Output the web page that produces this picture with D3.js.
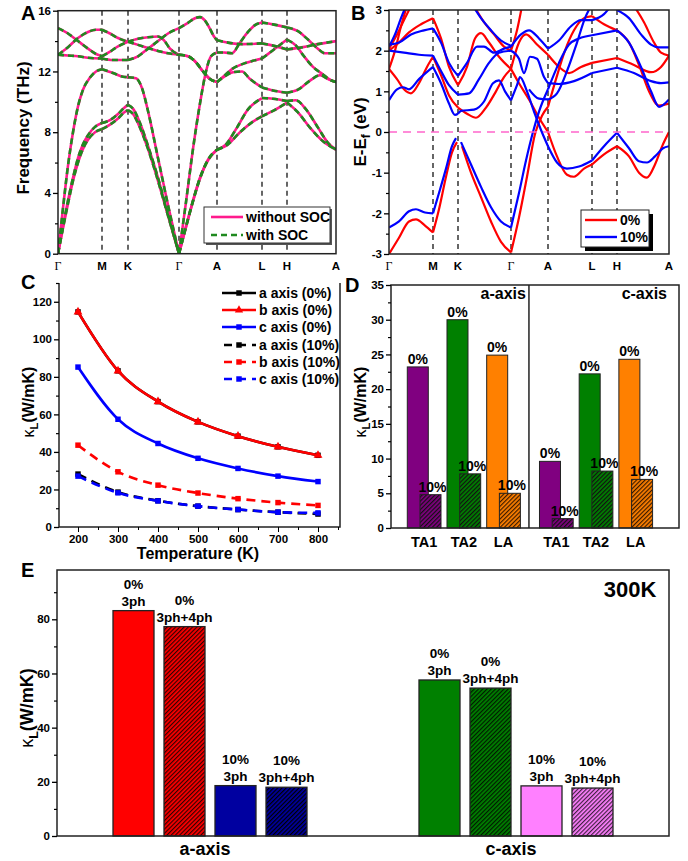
<!DOCTYPE html>
<html><head><meta charset="utf-8">
<script src="https://cdn.jsdelivr.net/npm/d3@7"></script>
<style>
body{margin:0;background:#fff;}
svg{font-family:"Liberation Sans",Arial,sans-serif;font-weight:bold;}
</style></head><body>
<svg id="fig" width="688" height="861"></svg>
<script>
// ---------- data ----------
const kLabels = ["Γ","M","K","Γ","A","L","H","A"];
const kPathA = [0,44,70,121,159,204,229,278];
const kPathB = [0,44,69,122,159,203,228,280];

// phonon bands (k, THz)
const phonon1 = [[0,0],[5,1.7],[10,3.3],[15,4.8],[20,6.0],[25,6.9],[30,7.5],[37,8.0],[44,8.2],[52,8.5],[60,8.9],[66,9.3],[70,9.45],[75,9.2],[82,8.3],[90,6.9],[100,4.8],[110,2.5],[121,0],[128,1.8],[135,3.5],[142,5.0],[150,6.2],[159,6.85],[170,7.2],[182,8.0],[195,8.7],[204,9.05],[215,9.4],[229,9.95],[240,9.3],[252,8.3],[265,7.4],[278,6.85]];
const phonon2 = [[0,0],[5,1.8],[10,3.5],[15,5.0],[20,6.3],[25,7.2],[30,7.8],[37,8.35],[44,8.6],[52,8.8],[60,9.2],[66,9.6],[70,9.8],[75,9.55],[82,8.6],[90,7.1],[100,5.0],[110,2.6],[121,0],[128,1.75],[135,3.45],[142,4.95],[150,6.15],[159,6.85],[168,7.2],[178,8.2],[190,9.5],[204,10.25],[215,10.2],[229,10.05],[238,10.1],[248,9.5],[260,8.3],[270,7.3],[278,6.85]];
const phonon3 = [[0,0],[5,3.0],[10,5.8],[15,8.0],[20,9.7],[25,10.8],[32,11.6],[38,12.0],[44,12.15],[55,11.9],[65,11.65],[70,11.62],[78,11.55],[84,10.9],[90,9.4],[100,6.3],[110,3.2],[121,0],[128,3.4],[135,6.9],[142,9.9],[148,12.0],[153,13.0],[159,13.25],[166,13.25],[174,13.2],[182,13.9],[190,14.6],[197,15.05],[204,15.22],[215,15.1],[229,14.9],[240,14.65],[250,14.1],[259,13.55],[267,13.2],[278,13.2]];
const phonon4 = [[0,14.85],[10,14.5],[20,14.0],[30,13.5],[38,13.15],[44,13.0],[52,13.3],[60,13.65],[70,13.95],[80,14.15],[90,14.25],[100,14.3],[106,14.05],[112,13.5],[121,13.1],[130,13.0],[138,12.6],[145,12.0],[152,11.5],[159,11.3],[165,11.6],[175,11.95],[184,12.0],[192,11.5],[204,10.95],[215,10.75],[229,10.6],[240,10.8],[252,11.4],[262,11.75],[270,11.5],[278,11.3]];
const phonon5 = [[0,13.1],[10,13.6],[20,14.2],[30,14.6],[38,14.75],[44,14.75],[52,14.5],[60,14.2],[70,13.95],[80,13.75],[90,13.55],[100,13.35],[110,13.2],[121,13.1],[130,13.0],[138,12.6],[145,12.0],[152,11.5],[159,11.3],[166,11.7],[175,12.2],[185,12.5],[195,12.7],[204,12.85],[215,13.4],[229,14.1],[238,13.7],[246,13.0],[255,12.3],[265,11.8],[272,11.45],[278,11.3]];
const phonon6 = [[0,13.1],[10,13.05],[20,13.0],[30,12.9],[44,12.85],[55,12.75],[70,12.75],[80,13.0],[90,13.5],[100,14.0],[110,14.5],[121,14.85],[130,15.2],[137,15.5],[142,15.58],[147,15.35],[152,14.8],[156,14.3],[159,14.05],[170,13.9],[185,13.8],[204,13.85],[215,13.7],[229,13.45],[245,13.6],[260,13.8],[278,14.0]];
const phononBands = [phonon1, phonon2, phonon3, phonon4, phonon5, phonon6];

// electronic bands (k, eV)
const red1 = [[0,-3.0],[10,-2.6],[20,-2.2],[27,-2.15],[36,-2.3],[44,-2.47],[50,-1.9],[57,-1.1],[63,-0.5],[68,-0.25],[73,-0.35],[82,-1.0],[92,-1.6],[102,-2.2],[112,-2.7],[122,-2.96],[130,-2.1],[138,-1.1],[146,-0.05],[153,0.4],[159,0.62],[167,1.3],[176,2.0],[185,2.5],[195,2.8],[203,2.85],[215,2.65],[228,2.5],[240,2.2],[250,1.65],[260,1.0],[270,0.65],[280,0.7]];
const red2 = [[0,2.0],[10,2.2],[20,2.45],[32,2.65],[44,2.8],[52,2.3],[60,1.6],[69,1.15],[78,1.6],[86,2.3],[92,2.43],[100,2.2],[110,1.85],[122,1.55],[130,1.2],[140,0.8],[150,0.35],[159,0.0],[168,-0.6],[178,-1.05],[185,-1.1],[195,-0.9],[203,-0.8],[215,-0.55],[228,-0.35],[240,-0.6],[250,-1.0],[258,-1.12],[266,-0.8],[274,-0.3],[280,0.0]];
const red3 = [[0,1.55],[8,1.3],[15,1.05],[22,0.95],[30,1.2],[38,1.6],[44,1.85],[52,1.4],[60,0.9],[69,0.6],[78,0.45],[87,0.35],[97,0.6],[107,1.0],[115,1.35],[122,1.55],[130,2.2],[137,2.4],[148,2.15],[159,1.9],[170,1.6],[180,1.45],[192,1.6],[203,1.7],[228,1.82],[245,1.65],[262,1.47],[272,1.6],[280,1.88]];
const red4 = [[0,2.05],[8,2.4],[16,2.8],[22,3.1]];
const red5 = [[0,1.55],[6,2.0],[12,2.6],[18,3.1]];
const red6 = [[85,3.1],[95,2.7],[105,2.4],[115,2.1],[122,2.0],[128,2.5],[133,3.1]];
const red7 = [[245,3.1],[255,2.7],[265,2.2],[272,1.95],[280,1.88]];
const blue1 = [[0,-2.35],[10,-2.2],[20,-1.95],[27,-1.9],[36,-1.98],[44,-2.0],[50,-1.5],[57,-0.9],[63,-0.35],[67,-0.15],[72,-0.25],[82,-0.8],[92,-1.35],[102,-1.85],[112,-2.2],[122,-2.35],[130,-1.5],[137,-0.7],[144,0.0],[150,0.5],[159,1.05],[170,1.7],[180,2.15],[190,2.3],[203,2.38],[228,2.5],[240,2.2],[252,1.6],[262,1.0],[270,0.62],[280,0.8]];
const blue2 = [[0,0.78],[8,1.05],[14,1.1],[20,1.05],[30,1.3],[44,1.6],[52,1.2],[60,0.7],[66,0.42],[69,0.45],[72,0.52],[85,0.55],[95,0.75],[104,1.2],[110,1.27],[116,1.0],[122,0.78],[128,1.15],[131,1.35],[138,1.0],[145,0.5],[152,0.05],[159,-0.35],[168,-0.75],[178,-0.9],[190,-0.85],[203,-0.7],[215,-0.35],[228,-0.02],[240,-0.4],[250,-0.72],[258,-0.75],[266,-0.6],[274,-0.4],[280,-0.35]];
const blue3 = [[0,2.0],[15,1.95],[30,1.9],[44,1.88],[52,1.5],[60,1.15],[69,0.92],[80,0.95],[90,1.3],[100,1.7],[110,1.95],[122,2.0],[130,1.8],[135,1.45],[141,1.85],[148,1.8],[155,1.35],[159,1.2],[170,1.18],[185,1.25],[203,1.45],[228,1.58],[245,1.45],[262,1.25],[272,1.2],[280,1.22]];
const blue4 = [[0,2.15],[10,2.2],[22,2.4],[35,2.5],[44,2.55],[52,2.2],[60,1.7],[69,1.38],[78,1.7],[88,2.1],[95,2.1],[105,1.95],[115,2.05],[122,2.1],[132,2.4],[140,2.5],[150,2.3],[159,2.05],[170,2.25],[182,2.6],[192,2.75],[203,2.75],[215,2.9],[222,3.1]];
const blue5 = [[0,2.1],[6,2.4],[12,2.8],[17,3.1]];
const blue6 = [[140,1.05],[150,0.82],[159,0.8],[168,0.95],[178,1.5],[188,2.2],[196,2.8],[202,3.1]];
const blue7 = [[84,3.1],[92,2.8],[102,2.5],[112,2.25],[122,2.12]];
const blue8 = [[228,3.0],[240,2.8],[252,2.4],[262,2.15],[270,2.08],[280,2.08]];
const bands0 = [red1, red2, red3, red4, red5, red6, red7];
const bands10 = [blue1, blue2, blue3, blue4, blue5, blue6, blue7, blue8];

// lattice thermal conductivity vs temperature
const temps = [200,300,400,500,600,700,800];
const kapA0 = [114.6,83.2,66.8,56.0,48.4,42.7,38.2];
const kapB0 = [114.6,83.2,66.8,56.0,48.4,42.7,38.2];
const kapC0 = [85.2,57.4,44.5,36.6,31.2,27.1,24.2];
const kapA10 = [28.2,18.6,14.0,11.1,9.3,7.9,6.9];
const kapB10 = [43.6,29.4,22.3,18.1,15.1,13.0,11.5];
const kapC10 = [27.1,18.2,13.9,11.1,9.3,7.9,7.5];
const seriesNames = ["a axis (0%)","b axis (0%)","c axis (0%)","a axis (10%)","b axis (10%)","c axis (10%)"];

// mode-resolved kappa
const modes = ["TA1","TA2","LA"];
const modeAxes = ["a-axis","c-axis"];
const modeA0 = [23.2,30.0,24.9];
const modeA10 = [4.8,7.8,5.0];
const modeC0 = [9.6,22.2,24.3];
const modeC10 = [1.35,8.2,7.0];
const modeColors = ["#800080","#008000","#ff8000"];

// 300K kappa
const caseStrain = ["0%","0%","10%","10%"];
const caseOrder = ["3ph","3ph+4ph","3ph","3ph+4ph"];
const kapE_a = [83.2,77.3,18.6,18.0];
const kapE_c = [57.6,54.6,18.5,17.7];

// ---------- helpers ----------
const svg = d3.select("#fig");
const defs = svg.append("defs");

function hatch(id, color, lineColor) {
  const p = defs.append("pattern").attr("id", id)
    .attr("patternUnits", "userSpaceOnUse")
    .attr("width", 3).attr("height", 3)
    .attr("patternTransform", "rotate(45)");
  p.append("rect").attr("width", 3).attr("height", 3).attr("fill", color);
  p.append("line").attr("x1", 0.6).attr("y1", 0).attr("x2", 0.6).attr("y2", 3)
    .attr("stroke", lineColor).attr("stroke-width", 1.2);
  return `url(#${id})`;
}

function yAxis(x, scale, major, minor, fs, fmt) {
  const a = svg.append("g").attr("transform", `translate(${x},0)`)
    .call(d3.axisLeft(scale).tickValues(major).tickSize(5).tickPadding(2)
      .tickFormat(fmt || (d => String(d))));
  a.attr("font-family", null).attr("font-size", fs);
  a.select(".domain").remove();
  a.selectAll("line").attr("stroke-width", 1.3);
  if (minor) {
    const m = svg.append("g").attr("transform", `translate(${x},0)`)
      .call(d3.axisLeft(scale).tickValues(minor).tickSize(3).tickFormat(""));
    m.select(".domain").remove();
    m.selectAll("line").attr("stroke-width", 1.2);
  }
}

function panelLetter(t, x, y) {
  svg.append("text").attr("x", x).attr("y", y).attr("font-size", 20).text(t);
}

function kappaTitle(x, y, fs) {
  const t = svg.append("text").attr("transform", `translate(${x},${y}) rotate(-90)`)
    .attr("text-anchor", "middle").attr("font-size", fs);
  t.append("tspan").attr("font-weight", "normal").text("κ");
  t.append("tspan").attr("font-size", fs * 0.7).attr("dy", fs * 0.28).text("L");
  t.append("tspan").attr("dy", -fs * 0.28).text("(W/mK)");
}

function drawBands(g, bands, kpos, x, y, stroke, width, dash) {
  const line = d3.line().x(d => x(d[0])).y(d => y(d[1])).curve(d3.curveMonotoneX);
  bands.forEach(b => {
    for (let i = 0; i < kpos.length - 1; i++) {
      const seg = b.filter(p => p[0] >= kpos[i] && p[0] <= kpos[i + 1]);
      if (seg.length < 2) continue;
      g.append("path").attr("d", line(seg)).attr("fill", "none")
        .attr("stroke", stroke).attr("stroke-width", width)
        .attr("stroke-dasharray", dash || null);
    }
  });
}

function kTicks(x, kpos, top, bottom, labelY) {
  kpos.slice(1, -1).forEach(k => {
    svg.append("line").attr("x1", x(k)).attr("x2", x(k)).attr("y1", top).attr("y2", bottom)
      .attr("stroke", "#000").attr("stroke-width", 1.2).attr("stroke-dasharray", "5,4");
  });
  kpos.forEach((k, i) => {
    const isG = kLabels[i] === "Γ";
    svg.append("text").attr("x", x(k)).attr("y", labelY).attr("text-anchor", "middle")
      .attr("font-size", isG ? 12 : 11.5)
      .attr("font-family", isG ? "Liberation Serif, serif" : null)
      .attr("font-weight", isG ? "normal" : "bold").text(kLabels[i]);
  });
}

// ---------- panel A ----------
{
  const x = d3.scaleLinear().domain([0, 278]).range([58, 336]);
  const y = d3.scaleLinear().domain([0, 16]).range([253.7, 10.7]);
  defs.append("clipPath").attr("id", "clipA").append("rect")
    .attr("x", 58).attr("y", 10.7).attr("width", 278).attr("height", 243);
  kTicks(x, kPathA, 10.7, 253.7, 270);
  const g = svg.append("g").attr("clip-path", "url(#clipA)");
  drawBands(g, phononBands, kPathA, x, y, "#ff1a8c", 2.6);
  drawBands(g, phononBands, kPathA, x, y, "#1f8a1f", 2.6, "6,4");
  svg.append("rect").attr("x", 58).attr("y", 10.7).attr("width", 278).attr("height", 243)
    .attr("fill", "none").attr("stroke", "#222").attr("stroke-width", 1.5);
  yAxis(58, y, [0, 4, 8, 12, 16], [2, 6, 10, 14], 11.5);
  svg.append("text").attr("transform", "translate(29,128) rotate(-90)")
    .attr("text-anchor", "middle").attr("font-size", 17).text("Frequency (THz)");
  panelLetter("A", 21, 20);
  // legend
  const lg = svg.append("g");
  lg.append("rect").attr("x", 206).attr("y", 209).attr("width", 126).attr("height", 36).attr("fill", "#555");
  lg.append("rect").attr("x", 204).attr("y", 207).attr("width", 126).attr("height", 36)
    .attr("fill", "#fff").attr("stroke", "#333").attr("stroke-width", 1);
  lg.append("line").attr("x1", 211).attr("x2", 243).attr("y1", 217).attr("y2", 217)
    .attr("stroke", "#ff1a8c").attr("stroke-width", 2.6);
  lg.append("line").attr("x1", 211).attr("x2", 243).attr("y1", 235).attr("y2", 235)
    .attr("stroke", "#1f8a1f").attr("stroke-width", 2.6).attr("stroke-dasharray", "6,4");
  lg.append("text").attr("x", 246).attr("y", 222).attr("font-size", 14).text("without SOC");
  lg.append("text").attr("x", 246).attr("y", 240).attr("font-size", 14).text("with SOC");
}

// ---------- panel B ----------
{
  const x = d3.scaleLinear().domain([0, 280]).range([389, 669]);
  const y = d3.scaleLinear().domain([-3, 3]).range([254, 10]);
  defs.append("clipPath").attr("id", "clipB").append("rect")
    .attr("x", 389).attr("y", 10).attr("width", 280).attr("height", 244);
  kTicks(x, kPathB, 10, 254, 270);
  const g = svg.append("g").attr("clip-path", "url(#clipB)");
  drawBands(g, bands0, kPathB, x, y, "#ff0000", 2.2);
  drawBands(g, bands10, kPathB, x, y, "#0000ff", 2.2);
  g.append("line").attr("x1", 389).attr("x2", 669).attr("y1", y(0)).attr("y2", y(0))
    .attr("stroke", "#ff66cc").attr("stroke-width", 1.6).attr("stroke-dasharray", "8,6");
  svg.append("rect").attr("x", 389).attr("y", 10).attr("width", 280).attr("height", 244)
    .attr("fill", "none").attr("stroke", "#222").attr("stroke-width", 1.5);
  yAxis(389, y, [-3, -2, -1, 0, 1, 2, 3], [-2.5, -1.5, -0.5, 0.5, 1.5, 2.5], 11.5);
  const t = svg.append("text").attr("transform", "translate(366,132) rotate(-90)")
    .attr("text-anchor", "middle").attr("font-size", 17);
  t.append("tspan").text("E-E");
  t.append("tspan").attr("font-size", 12).attr("dy", 4).text("f");
  t.append("tspan").attr("dy", -4).text(" (eV)");
  panelLetter("B", 351, 20);
  const lg = svg.append("g");
  lg.append("rect").attr("x", 585).attr("y", 214).attr("width", 68).attr("height", 37).attr("fill", "#000");
  lg.append("rect").attr("x", 581).attr("y", 210).attr("width", 68).attr("height", 37)
    .attr("fill", "#fff").attr("stroke", "#222").attr("stroke-width", 1);
  lg.append("line").attr("x1", 585).attr("x2", 617).attr("y1", 220).attr("y2", 220)
    .attr("stroke", "#ff0000").attr("stroke-width", 2.4);
  lg.append("line").attr("x1", 585).attr("x2", 617).attr("y1", 237).attr("y2", 237)
    .attr("stroke", "#0000ff").attr("stroke-width", 2.4);
  lg.append("text").attr("x", 620).attr("y", 225).attr("font-size", 14).text("0%");
  lg.append("text").attr("x", 620).attr("y", 242).attr("font-size", 14).text("10%");
}

// ---------- panel C ----------
{
  const x = d3.scaleLinear().domain([152.5, 855]).range([59, 340]);
  const y = d3.scaleLinear().domain([0, 130]).range([527, 283]);
  const series = [
    {v: kapA0, c: "#000", dash: null, sym: d3.symbolSquare},
    {v: kapB0, c: "#ff0000", dash: null, sym: d3.symbolTriangle},
    {v: kapC0, c: "#0000ff", dash: null, sym: d3.symbolSquare},
    {v: kapA10, c: "#000", dash: "9,6", sym: d3.symbolSquare},
    {v: kapB10, c: "#ff0000", dash: "9,6", sym: d3.symbolSquare},
    {v: kapC10, c: "#0000ff", dash: "9,6", sym: d3.symbolSquare}
  ];
  const line = d3.line().x((d, i) => x(temps[i])).y(d => y(d)).curve(d3.curveMonotoneX);
  series.forEach(s => {
    svg.append("path").attr("d", line(s.v)).attr("fill", "none").attr("stroke", s.c)
      .attr("stroke-width", 2.6).attr("stroke-dasharray", s.dash);
    svg.selectAll(null).data(s.v).join("path")
      .attr("transform", (d, i) => `translate(${x(temps[i])},${y(d)})`)
      .attr("d", d3.symbol().type(s.sym).size(s.sym === d3.symbolTriangle ? 34 : 30))
      .attr("fill", s.c);
  });
  svg.append("path").attr("d", "M59,283V527H340V283").attr("fill", "none")
    .attr("stroke", "#222").attr("stroke-width", 1.5);
  yAxis(59, y, [0, 20, 40, 60, 80, 100, 120], [10, 30, 50, 70, 90, 110, 130], 11.5);
  const xa = svg.append("g").attr("transform", "translate(0,527)")
    .call(d3.axisBottom(x).tickValues(temps).tickSize(5).tickPadding(3).tickFormat(d => String(d)));
  xa.attr("font-family", null).attr("font-size", 11.5);
  xa.select(".domain").remove();
  const xm = svg.append("g").attr("transform", "translate(0,527)")
    .call(d3.axisBottom(x).tickValues([250, 350, 450, 550, 650, 750, 850]).tickSize(3).tickFormat(""));
  xm.select(".domain").remove();
  svg.append("text").attr("x", 198).attr("y", 559).attr("text-anchor", "middle")
    .attr("font-size", 16).text("Temperature (K)");
  kappaTitle(34, 402, 16);
  panelLetter("C", 21, 289);
  const ly = [293, 310, 327, 345, 362, 379];
  series.forEach((s, i) => {
    svg.append("line").attr("x1", 222).attr("x2", 256).attr("y1", ly[i]).attr("y2", ly[i])
      .attr("stroke", s.c).attr("stroke-width", 2.6).attr("stroke-dasharray", s.dash ? "8,6" : null)
      .attr("stroke-dashoffset", s.dash ? -2 : null);
    svg.append("path").attr("transform", `translate(239,${ly[i]})`)
      .attr("d", d3.symbol().type(s.sym).size(30)).attr("fill", s.c);
    svg.append("text").attr("x", 259).attr("y", ly[i] + 5).attr("font-size", 14).text(seriesNames[i]);
  });
}

// ---------- panel D ----------
{
  const x = d3.scaleLinear().domain([-0.675, 6.58]).range([391, 679]);
  const y = d3.scaleLinear().domain([0, 35]).range([528, 285]);
  const groupGap = 3.33;
  const bw = 21, off = 12.7;
  const data = [];
  modeAxes.forEach((ax, ai) => {
    const v0 = ai === 0 ? modeA0 : modeC0;
    const v10 = ai === 0 ? modeA10 : modeC10;
    modes.forEach((m, mi) => {
      data.push({pos: ai * groupGap + mi, mode: m, mi, v0: v0[mi], v10: v10[mi]});
    });
  });
  const hatchD = modeColors.map((c, i) => hatch("hd" + i, c, i === 2 ? "#3a1a00" : "#111"));
  data.forEach(d => {
    const cx = x(d.pos);
    svg.append("rect").attr("x", cx - bw / 2).attr("y", y(d.v0)).attr("width", bw)
      .attr("height", y(0) - y(d.v0)).attr("fill", modeColors[d.mi]).attr("stroke", "#222").attr("stroke-width", 1);
    svg.append("rect").attr("x", cx + off - bw / 2).attr("y", y(d.v10)).attr("width", bw)
      .attr("height", y(0) - y(d.v10)).attr("fill", hatchD[d.mi]).attr("stroke", "#222").attr("stroke-width", 1);
    svg.append("text").attr("x", cx).attr("y", y(d.v0) - 3).attr("text-anchor", "middle")
      .attr("font-size", 14).text("0%");
    svg.append("text").attr("x", cx + off + 2).attr("y", y(d.v10) - 3).attr("text-anchor", "middle")
      .attr("font-size", 14).text("10%");
    svg.append("text").attr("x", cx + off / 2).attr("y", 547).attr("text-anchor", "middle")
      .attr("font-size", 14.5).text(d.mode);
  });
  svg.append("rect").attr("x", 391).attr("y", 285).attr("width", 288).attr("height", 243)
    .attr("fill", "none").attr("stroke", "#222").attr("stroke-width", 1.5);
  svg.append("line").attr("x1", x(2.8)).attr("x2", x(2.8)).attr("y1", 285).attr("y2", 528)
    .attr("stroke", "#222").attr("stroke-width", 1.5);
  yAxis(391, y, [0, 5, 10, 15, 20, 25, 30, 35], [2.5, 7.5, 12.5, 17.5, 22.5, 27.5, 32.5], 11.5);
  svg.append("text").attr("x", x(2.8) - 3).attr("y", 299).attr("text-anchor", "end")
    .attr("font-size", 16).text(modeAxes[0]);
  svg.append("text").attr("x", 667).attr("y", 299).attr("text-anchor", "end")
    .attr("font-size", 16).text(modeAxes[1]);
  kappaTitle(366, 402, 16);
  panelLetter("D", 345, 292);
}

// ---------- panel E ----------
{
  const xg = d3.scaleBand().domain(["a", "c"]).range([57, 669]);
  const y = d3.scaleLinear().domain([0, 98.2]).range([836, 570]);
  const bw = 41, step = 51;
  const colsA = ["#ff0000", hatch("he0", "#ff0000", "#300"), "#0000a0", hatch("he1", "#0000a0", "#000")];
  const colsC = ["#008000", hatch("he2", "#008000", "#001a00"), "#ff80ff", hatch("he3", "#ff80ff", "#402040")];
  [["a", kapE_a, colsA], ["c", kapE_c, colsC]].forEach(([key, vals, cols]) => {
    const c0 = xg(key) + xg.bandwidth() / 2;
    vals.forEach((v, i) => {
      const bx = c0 + (i - 1.5) * step - bw / 2;
      svg.append("rect").attr("x", bx).attr("y", y(v)).attr("width", bw)
        .attr("height", y(0) - y(v)).attr("fill", cols[i]).attr("stroke", "#222").attr("stroke-width", 1.3);
      svg.append("text").attr("x", bx + bw / 2).attr("y", y(v) - 22).attr("text-anchor", "middle")
        .attr("font-size", 13.5).text(caseStrain[i]);
      svg.append("text").attr("x", bx + bw / 2).attr("y", y(v) - 5).attr("text-anchor", "middle")
        .attr("font-size", 13.5).text(caseOrder[i]);
    });
    svg.append("text").attr("x", c0 - 5).attr("y", 855).attr("text-anchor", "middle")
      .attr("font-size", 18).text(key === "a" ? "a-axis" : "c-axis");
  });
  svg.append("rect").attr("x", 57).attr("y", 570).attr("width", 612).attr("height", 266)
    .attr("fill", "none").attr("stroke", "#222").attr("stroke-width", 1.5);
  yAxis(57, y, [0, 20, 40, 60, 80], [10, 30, 50, 70, 90], 11.5);
  svg.append("text").attr("x", 630).attr("y", 597).attr("text-anchor", "middle")
    .attr("font-size", 22).text("300K");
  kappaTitle(33, 708, 18);
  panelLetter("E", 21, 577);
}
</script>
</body></html>
